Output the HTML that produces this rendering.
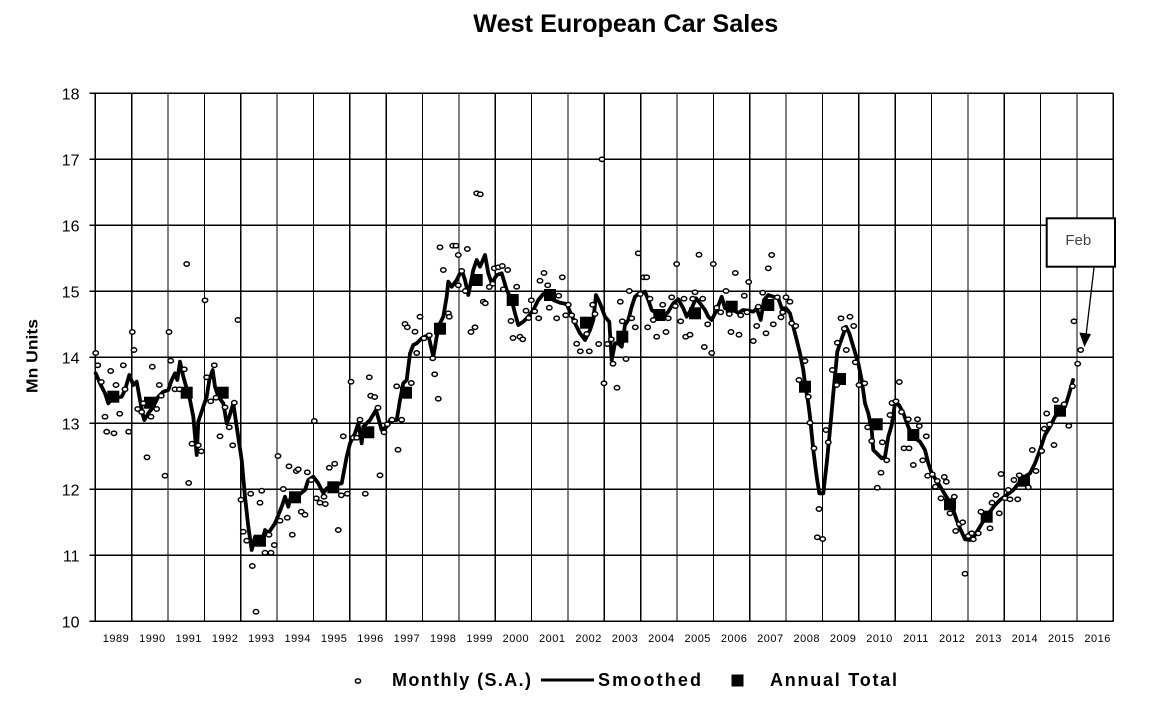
<!DOCTYPE html>
<html><head><meta charset="utf-8"><style>
html,body{margin:0;padding:0;background:#fff;}
svg{display:block;}
text{font-family:"Liberation Sans",Arial,sans-serif;}
#pts ellipse{rx:2.7px;ry:2.2px;}
</style></head><body>
<svg width="1164" height="701" viewBox="0 0 1164 701" xmlns="http://www.w3.org/2000/svg">
<rect width="1164" height="701" fill="#fff"/>
<text x="473.3" y="32" font-size="25" font-weight="bold" textLength="305" lengthAdjust="spacingAndGlyphs" fill="#000">West European Car Sales</text>
<g stroke="#000" stroke-width="1.2" fill="none" shape-rendering="crispEdges">
<path d="M89.3 93.3H1113.3M89.3 159.3H1113.3M89.3 225.3H1113.3M89.3 291.3H1113.3M89.3 357.3H1113.3M89.3 423.3H1113.3M89.3 489.3H1113.3M89.3 555.3H1113.3M89.3 621.3H1113.3"/>
<path d="M95.3 93.3V621.3M131.7 93.3V621.3M168 93.3V621.3M204.4 93.3V621.3M240.7 93.3V621.3M277.1 93.3V621.3M313.4 93.3V621.3M349.8 93.3V621.3M386.2 93.3V621.3M422.5 93.3V621.3M458.9 93.3V621.3M495.2 93.3V621.3M531.6 93.3V621.3M567.9 93.3V621.3M604.3 93.3V621.3M640.7 93.3V621.3M677 93.3V621.3M713.4 93.3V621.3M749.7 93.3V621.3M786.1 93.3V621.3M822.4 93.3V621.3M858.8 93.3V621.3M895.2 93.3V621.3M931.5 93.3V621.3M967.9 93.3V621.3M1004.2 93.3V621.3M1040.6 93.3V621.3M1076.9 93.3V621.3M1113.3 93.3V621.3"/>
</g>
<g font-size="16" text-anchor="end" fill="#000">
<text x="79.5" y="99.3">18</text><text x="79.5" y="165.3">17</text><text x="79.5" y="231.3">16</text><text x="79.5" y="297.3">15</text><text x="79.5" y="363.3">14</text><text x="79.5" y="429.3">13</text><text x="79.5" y="495.3">12</text><text x="79.5" y="561.3">11</text><text x="79.5" y="627.3">10</text>
</g>
<g font-size="11" text-anchor="middle" fill="#000" letter-spacing="0.5">
<text x="116" y="642">1989</text><text x="152.4" y="642">1990</text><text x="188.7" y="642">1991</text><text x="225.1" y="642">1992</text><text x="261.4" y="642">1993</text><text x="297.8" y="642">1994</text><text x="334.1" y="642">1995</text><text x="370.5" y="642">1996</text><text x="406.9" y="642">1997</text><text x="443.2" y="642">1998</text><text x="479.6" y="642">1999</text><text x="515.9" y="642">2000</text><text x="552.3" y="642">2001</text><text x="588.6" y="642">2002</text><text x="625" y="642">2003</text><text x="661.4" y="642">2004</text><text x="697.7" y="642">2005</text><text x="734.1" y="642">2006</text><text x="770.4" y="642">2007</text><text x="806.8" y="642">2008</text><text x="843.1" y="642">2009</text><text x="879.5" y="642">2010</text><text x="915.9" y="642">2011</text><text x="952.2" y="642">2012</text><text x="988.6" y="642">2013</text><text x="1024.9" y="642">2014</text><text x="1061.3" y="642">2015</text><text x="1097.6" y="642">2016</text>
</g>
<text transform="translate(37.5,356) rotate(-90)" text-anchor="middle" font-size="16" font-weight="bold" textLength="74" lengthAdjust="spacingAndGlyphs" fill="#000">Mn Units</text>
<polyline fill="none" stroke="#000" stroke-width="3.8" stroke-linejoin="round" stroke-linecap="round" points="95.7,373.3 100,383.3 105,393.3 108.3,403.3 111.7,398.3 121.7,396.7 125,390 129.3,375 133.3,385 136.7,381.7 140,400 143.3,416.7 144.3,420 148.3,413.3 153.3,406.7 158.3,396.7 163.3,391.7 168.3,390 171.7,380 175,373.3 177.3,380 180,361.7 183.3,376.7 190,400 193.3,416.7 196.7,455 198.3,421.7 203.3,406.7 206.7,396.7 209.3,380 212.7,370 215,386.7 218.3,396.7 223.3,403.3 226.7,423.3 229.3,416.7 233.3,403.3 236.7,426.7 241.7,460 245,496.7 248.3,526.7 251.7,550 255,536.7 258.3,540 261.7,543.3 265,530 268.3,533.3 275,523.3 281.7,506.7 285,496.7 288.3,506.7 291.7,493.3 300,494 305,490 308.3,480 313.3,476.7 318.3,483.3 323.3,493.3 326.7,488.3 333.3,485 341.7,483.3 346.7,456.7 350,443.3 355,433.3 358.3,423.3 361.7,443.3 363.3,426.7 370,420 376,410 381.7,430 386.7,426.7 390,420 396.7,420 400,400 403.3,383.3 406.7,380 410,353.3 413.3,345 416.7,343.3 421.7,338.3 428.3,335 433.3,356.7 436.7,336.7 440,323.3 443.3,316.7 446.7,296.7 448.3,281.7 451.7,286.7 456.7,280 461.7,270 465,280 468.3,295 473.3,270 476.7,260 480,266.7 485,255 488.3,273.3 491.7,283.3 496.7,275 501.7,273.3 506.7,290 511.7,300 515,313.3 518.3,325 523.3,321.7 527,318 533.3,310 538.3,300 543.3,294 548.3,292.7 553.3,300 560,302.7 566.7,304 570,311.7 575,323.3 580,333.3 585,340 590,330 593.3,320 596,295 600,303.3 605,316.7 609.3,321.7 611.7,360 615,343.3 618.3,343.3 621.7,346.7 625,325 628.3,320 631.7,306.7 635,296.7 639.3,293.3 645,291.7 648.3,300 651.7,310 656.7,313.3 660,316.7 665,315 668.3,311.7 673.3,303.3 678.3,299.3 683.3,308.3 686.7,316.7 691.7,308.3 696,298.3 700,303.3 705,310 708.3,316.7 711.7,320 716.7,310 721.7,296.7 725,308.3 728.3,308.3 733.3,310 738.3,313 743,310 748,310.5 753.3,311.7 756.7,308.3 760.7,320 764,300 768.3,295 773.3,296.7 778.3,298.3 781.7,308.3 786,308.3 790,313.3 793.3,326.7 796.7,340 800,353.3 803.3,370 805,383.3 808.3,403.3 810,416.7 813.3,450 816.7,476.7 819.3,493.3 823.3,493.3 826.7,463.3 830,430 833.3,393.3 837.3,351.7 840,343.3 846,326.7 849.3,333.3 853.3,346.7 858.3,363.3 861.7,380 865,403.3 868.3,413.3 871.7,430 873.3,450 876.7,453.3 881.7,458.3 885,456.7 888.3,436.7 891.7,425 895,403.3 899,405 903.3,413 908.3,427 913.3,436.7 920,441.7 925,450 928.3,463.3 931.7,473.3 938.3,483.3 943.3,491.7 948.3,500 953.3,510 956.7,520 960,528.3 965,539.3 970,540 975,535 980,526.7 985,518.3 990,511.7 995,505 1000,500 1006.7,495 1013.3,490 1020,481.7 1025,476.7 1030,473.3 1035,463.3 1040,450 1045,435 1050,426.7 1055,416.7 1060,411.7 1065,406.7 1068.3,396.7 1071.7,385 1073,380"/>
<g fill="#000">
<rect x="107.3" y="390.7" width="12" height="12"/><rect x="144" y="396.7" width="12" height="12"/><rect x="180.7" y="386.7" width="12" height="12"/><rect x="216.7" y="386.7" width="12" height="12"/><rect x="254" y="534.7" width="12" height="12"/><rect x="289" y="491.3" width="12" height="12"/><rect x="327.3" y="481.3" width="12" height="12"/><rect x="362.3" y="426.3" width="12" height="12"/><rect x="400" y="386.7" width="12" height="12"/><rect x="434" y="322.7" width="12" height="12"/><rect x="470.7" y="274" width="12" height="12"/><rect x="506.7" y="294" width="12" height="12"/><rect x="544" y="289" width="12" height="12"/><rect x="580" y="316.7" width="12" height="12"/><rect x="616.3" y="330.7" width="12" height="12"/><rect x="653.3" y="309" width="12" height="12"/><rect x="689" y="307.3" width="12" height="12"/><rect x="725.7" y="300.7" width="12" height="12"/><rect x="762.3" y="299" width="12" height="12"/><rect x="799" y="380.7" width="12" height="12"/><rect x="834" y="373" width="12" height="12"/><rect x="870.7" y="418.3" width="12" height="12"/><rect x="907.3" y="429" width="12" height="12"/><rect x="944" y="498.3" width="12" height="12"/><rect x="980.7" y="510.7" width="12" height="12"/><rect x="1018" y="474.7" width="12" height="12"/><rect x="1054" y="404.7" width="12" height="12"/>
</g>
<g id="pts" fill="#fff" stroke="#000" stroke-width="1.5">
<ellipse cx="95.7" cy="353" rx="2.7" ry="2.2"/><ellipse cx="186.7" cy="264" rx="2.7" ry="2.2"/><ellipse cx="205" cy="300.3" rx="2.7" ry="2.2"/><ellipse cx="238" cy="320" rx="2.7" ry="2.2"/><ellipse cx="132.3" cy="332" rx="2.7" ry="2.2"/><ellipse cx="169" cy="332" rx="2.7" ry="2.2"/><ellipse cx="134" cy="350" rx="2.7" ry="2.2"/><ellipse cx="97.7" cy="365.3" rx="2.7" ry="2.2"/><ellipse cx="110.7" cy="371" rx="2.7" ry="2.2"/><ellipse cx="123.3" cy="365.3" rx="2.7" ry="2.2"/><ellipse cx="152.3" cy="366.7" rx="2.7" ry="2.2"/><ellipse cx="170.7" cy="360.7" rx="2.7" ry="2.2"/><ellipse cx="214.3" cy="365.3" rx="2.7" ry="2.2"/><ellipse cx="206.7" cy="377.3" rx="2.7" ry="2.2"/><ellipse cx="184.3" cy="369.3" rx="2.7" ry="2.2"/><ellipse cx="101.3" cy="382" rx="2.7" ry="2.2"/><ellipse cx="116" cy="385" rx="2.7" ry="2.2"/><ellipse cx="125" cy="389.3" rx="2.7" ry="2.2"/><ellipse cx="159.3" cy="385" rx="2.7" ry="2.2"/><ellipse cx="175" cy="389.3" rx="2.7" ry="2.2"/><ellipse cx="179.3" cy="389.3" rx="2.7" ry="2.2"/><ellipse cx="161.3" cy="395.7" rx="2.7" ry="2.2"/><ellipse cx="137.7" cy="409" rx="2.7" ry="2.2"/><ellipse cx="141.7" cy="412" rx="2.7" ry="2.2"/><ellipse cx="143.3" cy="403.3" rx="2.7" ry="2.2"/><ellipse cx="156.7" cy="409" rx="2.7" ry="2.2"/><ellipse cx="151" cy="416.7" rx="2.7" ry="2.2"/><ellipse cx="105" cy="416.7" rx="2.7" ry="2.2"/><ellipse cx="119.7" cy="413.7" rx="2.7" ry="2.2"/><ellipse cx="106.7" cy="431.7" rx="2.7" ry="2.2"/><ellipse cx="114" cy="433.3" rx="2.7" ry="2.2"/><ellipse cx="128.7" cy="431.7" rx="2.7" ry="2.2"/><ellipse cx="210.7" cy="401.3" rx="2.7" ry="2.2"/><ellipse cx="216" cy="397.7" rx="2.7" ry="2.2"/><ellipse cx="225" cy="407.3" rx="2.7" ry="2.2"/><ellipse cx="234.3" cy="402.7" rx="2.7" ry="2.2"/><ellipse cx="229.3" cy="427.3" rx="2.7" ry="2.2"/><ellipse cx="220" cy="436.3" rx="2.7" ry="2.2"/><ellipse cx="232.7" cy="445.3" rx="2.7" ry="2.2"/><ellipse cx="192" cy="443.7" rx="2.7" ry="2.2"/><ellipse cx="198.3" cy="445.3" rx="2.7" ry="2.2"/><ellipse cx="201.3" cy="451.3" rx="2.7" ry="2.2"/><ellipse cx="147" cy="457.3" rx="2.7" ry="2.2"/><ellipse cx="165" cy="475.7" rx="2.7" ry="2.2"/><ellipse cx="188.7" cy="483" rx="2.7" ry="2.2"/><ellipse cx="278" cy="456" rx="2.7" ry="2.2"/><ellipse cx="289" cy="466.3" rx="2.7" ry="2.2"/><ellipse cx="296.3" cy="471" rx="2.7" ry="2.2"/><ellipse cx="298.3" cy="469.3" rx="2.7" ry="2.2"/><ellipse cx="307.3" cy="472.3" rx="2.7" ry="2.2"/><ellipse cx="283.3" cy="489" rx="2.7" ry="2.2"/><ellipse cx="261.7" cy="490.7" rx="2.7" ry="2.2"/><ellipse cx="250.7" cy="493.7" rx="2.7" ry="2.2"/><ellipse cx="241" cy="499.7" rx="2.7" ry="2.2"/><ellipse cx="260" cy="502.7" rx="2.7" ry="2.2"/><ellipse cx="301.3" cy="511.7" rx="2.7" ry="2.2"/><ellipse cx="305" cy="514.7" rx="2.7" ry="2.2"/><ellipse cx="287.3" cy="517.7" rx="2.7" ry="2.2"/><ellipse cx="280" cy="520.7" rx="2.7" ry="2.2"/><ellipse cx="292.3" cy="534.7" rx="2.7" ry="2.2"/><ellipse cx="243.3" cy="531.7" rx="2.7" ry="2.2"/><ellipse cx="246.7" cy="540.7" rx="2.7" ry="2.2"/><ellipse cx="269" cy="534.7" rx="2.7" ry="2.2"/><ellipse cx="274.3" cy="545" rx="2.7" ry="2.2"/><ellipse cx="265" cy="552.7" rx="2.7" ry="2.2"/><ellipse cx="271" cy="552.7" rx="2.7" ry="2.2"/><ellipse cx="252.3" cy="566" rx="2.7" ry="2.2"/><ellipse cx="256" cy="611.7" rx="2.7" ry="2.2"/>
<ellipse cx="476.7" cy="193.3" rx="2.7" ry="2.2"/><ellipse cx="480.3" cy="194.3" rx="2.7" ry="2.2"/><ellipse cx="440" cy="247.3" rx="2.7" ry="2.2"/><ellipse cx="452.7" cy="245.7" rx="2.7" ry="2.2"/><ellipse cx="456" cy="245.7" rx="2.7" ry="2.2"/><ellipse cx="467.3" cy="249" rx="2.7" ry="2.2"/><ellipse cx="458.3" cy="255" rx="2.7" ry="2.2"/><ellipse cx="443.3" cy="270" rx="2.7" ry="2.2"/><ellipse cx="461.7" cy="271" rx="2.7" ry="2.2"/><ellipse cx="494.3" cy="268.3" rx="2.7" ry="2.2"/><ellipse cx="498.3" cy="267.3" rx="2.7" ry="2.2"/><ellipse cx="502.3" cy="266" rx="2.7" ry="2.2"/><ellipse cx="507.7" cy="270" rx="2.7" ry="2.2"/><ellipse cx="458.3" cy="285.3" rx="2.7" ry="2.2"/><ellipse cx="465.3" cy="291" rx="2.7" ry="2.2"/><ellipse cx="492.7" cy="283.7" rx="2.7" ry="2.2"/><ellipse cx="489.3" cy="287" rx="2.7" ry="2.2"/><ellipse cx="503.3" cy="289.3" rx="2.7" ry="2.2"/><ellipse cx="516.7" cy="286.7" rx="2.7" ry="2.2"/><ellipse cx="483.3" cy="301.7" rx="2.7" ry="2.2"/><ellipse cx="485.3" cy="303.3" rx="2.7" ry="2.2"/><ellipse cx="448.3" cy="313.3" rx="2.7" ry="2.2"/><ellipse cx="449.3" cy="316.7" rx="2.7" ry="2.2"/><ellipse cx="420" cy="316.7" rx="2.7" ry="2.2"/><ellipse cx="405" cy="324" rx="2.7" ry="2.2"/><ellipse cx="407.3" cy="327.3" rx="2.7" ry="2.2"/><ellipse cx="415" cy="331.7" rx="2.7" ry="2.2"/><ellipse cx="475" cy="327.3" rx="2.7" ry="2.2"/><ellipse cx="471" cy="332" rx="2.7" ry="2.2"/><ellipse cx="511" cy="321" rx="2.7" ry="2.2"/><ellipse cx="513" cy="338" rx="2.7" ry="2.2"/><ellipse cx="424" cy="338.3" rx="2.7" ry="2.2"/><ellipse cx="429.3" cy="335.3" rx="2.7" ry="2.2"/><ellipse cx="416.7" cy="353" rx="2.7" ry="2.2"/><ellipse cx="432.7" cy="358.3" rx="2.7" ry="2.2"/><ellipse cx="434.7" cy="374.3" rx="2.7" ry="2.2"/><ellipse cx="438.3" cy="398.7" rx="2.7" ry="2.2"/><ellipse cx="351" cy="381.7" rx="2.7" ry="2.2"/><ellipse cx="369.3" cy="377.3" rx="2.7" ry="2.2"/><ellipse cx="370.7" cy="395.7" rx="2.7" ry="2.2"/><ellipse cx="374.7" cy="397" rx="2.7" ry="2.2"/><ellipse cx="378" cy="407.7" rx="2.7" ry="2.2"/><ellipse cx="396.7" cy="386.3" rx="2.7" ry="2.2"/><ellipse cx="411.3" cy="383" rx="2.7" ry="2.2"/><ellipse cx="314.3" cy="421" rx="2.7" ry="2.2"/><ellipse cx="360" cy="419.7" rx="2.7" ry="2.2"/><ellipse cx="401.7" cy="419.7" rx="2.7" ry="2.2"/><ellipse cx="392" cy="419.7" rx="2.7" ry="2.2"/><ellipse cx="387.3" cy="424.3" rx="2.7" ry="2.2"/><ellipse cx="384" cy="432.3" rx="2.7" ry="2.2"/><ellipse cx="343.3" cy="436.3" rx="2.7" ry="2.2"/><ellipse cx="353.3" cy="437.7" rx="2.7" ry="2.2"/><ellipse cx="356.7" cy="437.7" rx="2.7" ry="2.2"/><ellipse cx="398" cy="449.7" rx="2.7" ry="2.2"/><ellipse cx="334.7" cy="463.7" rx="2.7" ry="2.2"/><ellipse cx="329.3" cy="467.7" rx="2.7" ry="2.2"/><ellipse cx="380" cy="475.3" rx="2.7" ry="2.2"/><ellipse cx="365.3" cy="493.7" rx="2.7" ry="2.2"/><ellipse cx="341.3" cy="495.3" rx="2.7" ry="2.2"/><ellipse cx="347.3" cy="493.7" rx="2.7" ry="2.2"/><ellipse cx="316.3" cy="498.3" rx="2.7" ry="2.2"/><ellipse cx="320" cy="502.7" rx="2.7" ry="2.2"/><ellipse cx="325.3" cy="504" rx="2.7" ry="2.2"/><ellipse cx="324" cy="496.7" rx="2.7" ry="2.2"/><ellipse cx="338.3" cy="530" rx="2.7" ry="2.2"/><ellipse cx="311.3" cy="480" rx="2.7" ry="2.2"/>
<ellipse cx="602" cy="159.3" rx="2.7" ry="2.2"/><ellipse cx="638.3" cy="253.3" rx="2.7" ry="2.2"/><ellipse cx="699" cy="254.7" rx="2.7" ry="2.2"/><ellipse cx="676.7" cy="264" rx="2.7" ry="2.2"/><ellipse cx="713.3" cy="264" rx="2.7" ry="2.2"/><ellipse cx="643.7" cy="277.3" rx="2.7" ry="2.2"/><ellipse cx="646.7" cy="277.3" rx="2.7" ry="2.2"/><ellipse cx="735.3" cy="273" rx="2.7" ry="2.2"/><ellipse cx="748.7" cy="282" rx="2.7" ry="2.2"/><ellipse cx="544" cy="273" rx="2.7" ry="2.2"/><ellipse cx="540" cy="280.7" rx="2.7" ry="2.2"/><ellipse cx="562.3" cy="277.3" rx="2.7" ry="2.2"/><ellipse cx="547.7" cy="285.3" rx="2.7" ry="2.2"/><ellipse cx="558.7" cy="295.7" rx="2.7" ry="2.2"/><ellipse cx="531.3" cy="300.3" rx="2.7" ry="2.2"/><ellipse cx="549.3" cy="307.7" rx="2.7" ry="2.2"/><ellipse cx="526" cy="310.7" rx="2.7" ry="2.2"/><ellipse cx="534.7" cy="311.3" rx="2.7" ry="2.2"/><ellipse cx="538.7" cy="318.3" rx="2.7" ry="2.2"/><ellipse cx="556.7" cy="318.3" rx="2.7" ry="2.2"/><ellipse cx="565.7" cy="315.3" rx="2.7" ry="2.2"/><ellipse cx="571.7" cy="315.3" rx="2.7" ry="2.2"/><ellipse cx="568.3" cy="304.7" rx="2.7" ry="2.2"/><ellipse cx="528.7" cy="318" rx="2.7" ry="2.2"/><ellipse cx="520" cy="336.7" rx="2.7" ry="2.2"/><ellipse cx="522.7" cy="339.3" rx="2.7" ry="2.2"/><ellipse cx="592.7" cy="304.7" rx="2.7" ry="2.2"/><ellipse cx="595" cy="314" rx="2.7" ry="2.2"/><ellipse cx="574.7" cy="321.3" rx="2.7" ry="2.2"/><ellipse cx="586.7" cy="334" rx="2.7" ry="2.2"/><ellipse cx="576.7" cy="343.7" rx="2.7" ry="2.2"/><ellipse cx="580.3" cy="351.3" rx="2.7" ry="2.2"/><ellipse cx="589.3" cy="351.3" rx="2.7" ry="2.2"/><ellipse cx="598.7" cy="344" rx="2.7" ry="2.2"/><ellipse cx="607.3" cy="344" rx="2.7" ry="2.2"/><ellipse cx="611.3" cy="339.3" rx="2.7" ry="2.2"/><ellipse cx="613" cy="363.7" rx="2.7" ry="2.2"/><ellipse cx="626" cy="359" rx="2.7" ry="2.2"/><ellipse cx="604" cy="383.3" rx="2.7" ry="2.2"/><ellipse cx="617" cy="387.7" rx="2.7" ry="2.2"/><ellipse cx="620.3" cy="301.7" rx="2.7" ry="2.2"/><ellipse cx="622.3" cy="321.3" rx="2.7" ry="2.2"/><ellipse cx="629.3" cy="291" rx="2.7" ry="2.2"/><ellipse cx="631.7" cy="318.3" rx="2.7" ry="2.2"/><ellipse cx="635.3" cy="327.3" rx="2.7" ry="2.2"/><ellipse cx="640.3" cy="294" rx="2.7" ry="2.2"/><ellipse cx="650" cy="298.7" rx="2.7" ry="2.2"/><ellipse cx="647.7" cy="327.3" rx="2.7" ry="2.2"/><ellipse cx="653.3" cy="320" rx="2.7" ry="2.2"/><ellipse cx="662.7" cy="304.7" rx="2.7" ry="2.2"/><ellipse cx="668.3" cy="318.3" rx="2.7" ry="2.2"/><ellipse cx="656.7" cy="336.7" rx="2.7" ry="2.2"/><ellipse cx="666" cy="332" rx="2.7" ry="2.2"/><ellipse cx="671.7" cy="297.3" rx="2.7" ry="2.2"/><ellipse cx="675.3" cy="306" rx="2.7" ry="2.2"/><ellipse cx="684" cy="298.7" rx="2.7" ry="2.2"/><ellipse cx="680.7" cy="321.3" rx="2.7" ry="2.2"/><ellipse cx="685.7" cy="336.7" rx="2.7" ry="2.2"/><ellipse cx="690" cy="334.7" rx="2.7" ry="2.2"/><ellipse cx="695" cy="292.3" rx="2.7" ry="2.2"/><ellipse cx="692.7" cy="298.7" rx="2.7" ry="2.2"/><ellipse cx="702.7" cy="298.7" rx="2.7" ry="2.2"/><ellipse cx="707.7" cy="324.3" rx="2.7" ry="2.2"/><ellipse cx="704.3" cy="347" rx="2.7" ry="2.2"/><ellipse cx="711.7" cy="353" rx="2.7" ry="2.2"/><ellipse cx="716.7" cy="307.7" rx="2.7" ry="2.2"/><ellipse cx="720.7" cy="312.3" rx="2.7" ry="2.2"/><ellipse cx="726" cy="291" rx="2.7" ry="2.2"/><ellipse cx="729.3" cy="314" rx="2.7" ry="2.2"/><ellipse cx="731" cy="332" rx="2.7" ry="2.2"/><ellipse cx="739" cy="334.7" rx="2.7" ry="2.2"/><ellipse cx="740.7" cy="315.3" rx="2.7" ry="2.2"/><ellipse cx="744.3" cy="295.7" rx="2.7" ry="2.2"/><ellipse cx="747" cy="312.3" rx="2.7" ry="2.2"/>
<ellipse cx="771.7" cy="255" rx="2.7" ry="2.2"/><ellipse cx="768.3" cy="268.3" rx="2.7" ry="2.2"/><ellipse cx="762.7" cy="292.7" rx="2.7" ry="2.2"/><ellipse cx="758.3" cy="306.7" rx="2.7" ry="2.2"/><ellipse cx="756.7" cy="326" rx="2.7" ry="2.2"/><ellipse cx="753.3" cy="341" rx="2.7" ry="2.2"/><ellipse cx="766" cy="333.3" rx="2.7" ry="2.2"/><ellipse cx="773.3" cy="324.3" rx="2.7" ry="2.2"/><ellipse cx="777.3" cy="297.3" rx="2.7" ry="2.2"/><ellipse cx="786" cy="297.3" rx="2.7" ry="2.2"/><ellipse cx="790" cy="301.7" rx="2.7" ry="2.2"/><ellipse cx="782.7" cy="312.3" rx="2.7" ry="2.2"/><ellipse cx="781" cy="317.3" rx="2.7" ry="2.2"/><ellipse cx="791.7" cy="323.3" rx="2.7" ry="2.2"/><ellipse cx="795.7" cy="326" rx="2.7" ry="2.2"/><ellipse cx="805" cy="361" rx="2.7" ry="2.2"/><ellipse cx="799" cy="380" rx="2.7" ry="2.2"/><ellipse cx="808.3" cy="396.7" rx="2.7" ry="2.2"/><ellipse cx="810" cy="422.7" rx="2.7" ry="2.2"/><ellipse cx="814" cy="448.3" rx="2.7" ry="2.2"/><ellipse cx="819" cy="509" rx="2.7" ry="2.2"/><ellipse cx="817.3" cy="537.3" rx="2.7" ry="2.2"/><ellipse cx="822.7" cy="539" rx="2.7" ry="2.2"/><ellipse cx="826" cy="430" rx="2.7" ry="2.2"/><ellipse cx="828.3" cy="442.3" rx="2.7" ry="2.2"/><ellipse cx="832.3" cy="370" rx="2.7" ry="2.2"/><ellipse cx="836.7" cy="385" rx="2.7" ry="2.2"/><ellipse cx="837.3" cy="342.7" rx="2.7" ry="2.2"/><ellipse cx="841" cy="318.3" rx="2.7" ry="2.2"/><ellipse cx="850" cy="316.7" rx="2.7" ry="2.2"/><ellipse cx="853.7" cy="326" rx="2.7" ry="2.2"/><ellipse cx="844.3" cy="328.7" rx="2.7" ry="2.2"/><ellipse cx="846.3" cy="350" rx="2.7" ry="2.2"/><ellipse cx="855.3" cy="362.3" rx="2.7" ry="2.2"/><ellipse cx="859" cy="385" rx="2.7" ry="2.2"/><ellipse cx="864.7" cy="383.3" rx="2.7" ry="2.2"/><ellipse cx="867.7" cy="427.3" rx="2.7" ry="2.2"/>
<ellipse cx="871.7" cy="441" rx="2.7" ry="2.2"/><ellipse cx="882.3" cy="442.3" rx="2.7" ry="2.2"/><ellipse cx="886.7" cy="460.3" rx="2.7" ry="2.2"/><ellipse cx="881" cy="472.7" rx="2.7" ry="2.2"/><ellipse cx="877.3" cy="487.7" rx="2.7" ry="2.2"/><ellipse cx="890" cy="415" rx="2.7" ry="2.2"/><ellipse cx="892" cy="403" rx="2.7" ry="2.2"/><ellipse cx="896" cy="401.3" rx="2.7" ry="2.2"/><ellipse cx="899.3" cy="382" rx="2.7" ry="2.2"/><ellipse cx="901.5" cy="412" rx="2.7" ry="2.2"/><ellipse cx="908.3" cy="419.3" rx="2.7" ry="2.2"/><ellipse cx="917.5" cy="419.3" rx="2.7" ry="2.2"/><ellipse cx="919.3" cy="426" rx="2.7" ry="2.2"/><ellipse cx="926.3" cy="436.3" rx="2.7" ry="2.2"/><ellipse cx="904" cy="448.3" rx="2.7" ry="2.2"/><ellipse cx="909" cy="448.3" rx="2.7" ry="2.2"/>
<ellipse cx="922.7" cy="460.3" rx="2.7" ry="2.2"/><ellipse cx="913.3" cy="465" rx="2.7" ry="2.2"/><ellipse cx="927.7" cy="475.7" rx="2.7" ry="2.2"/><ellipse cx="932.3" cy="474.3" rx="2.7" ry="2.2"/><ellipse cx="937.3" cy="481" rx="2.7" ry="2.2"/><ellipse cx="935.3" cy="486.7" rx="2.7" ry="2.2"/><ellipse cx="944.3" cy="477" rx="2.7" ry="2.2"/><ellipse cx="946.3" cy="481.7" rx="2.7" ry="2.2"/><ellipse cx="941" cy="498.3" rx="2.7" ry="2.2"/><ellipse cx="954.3" cy="496.7" rx="2.7" ry="2.2"/><ellipse cx="950" cy="513.3" rx="2.7" ry="2.2"/><ellipse cx="959.3" cy="524" rx="2.7" ry="2.2"/><ellipse cx="962.7" cy="522.3" rx="2.7" ry="2.2"/><ellipse cx="955.7" cy="531" rx="2.7" ry="2.2"/><ellipse cx="968.3" cy="536" rx="2.7" ry="2.2"/><ellipse cx="971.7" cy="533.3" rx="2.7" ry="2.2"/><ellipse cx="978.3" cy="533.3" rx="2.7" ry="2.2"/><ellipse cx="973.3" cy="539.3" rx="2.7" ry="2.2"/><ellipse cx="965" cy="573.7" rx="2.7" ry="2.2"/><ellipse cx="981" cy="511.7" rx="2.7" ry="2.2"/><ellipse cx="990" cy="528.3" rx="2.7" ry="2.2"/><ellipse cx="992" cy="502.7" rx="2.7" ry="2.2"/><ellipse cx="996" cy="495" rx="2.7" ry="2.2"/><ellipse cx="999.3" cy="513.3" rx="2.7" ry="2.2"/><ellipse cx="1001" cy="474" rx="2.7" ry="2.2"/><ellipse cx="1005" cy="498.3" rx="2.7" ry="2.2"/><ellipse cx="1010" cy="499.3" rx="2.7" ry="2.2"/><ellipse cx="1017.7" cy="499.3" rx="2.7" ry="2.2"/><ellipse cx="1008.3" cy="490" rx="2.7" ry="2.2"/><ellipse cx="1014" cy="480" rx="2.7" ry="2.2"/><ellipse cx="1019.3" cy="475.3" rx="2.7" ry="2.2"/><ellipse cx="1028.3" cy="487.3" rx="2.7" ry="2.2"/><ellipse cx="1036" cy="471" rx="2.7" ry="2.2"/><ellipse cx="1032.3" cy="450" rx="2.7" ry="2.2"/><ellipse cx="1041.7" cy="451" rx="2.7" ry="2.2"/><ellipse cx="1054" cy="445" rx="2.7" ry="2.2"/><ellipse cx="1044.3" cy="428.7" rx="2.7" ry="2.2"/><ellipse cx="1049.6" cy="424.5" rx="2.7" ry="2.2"/><ellipse cx="1046.7" cy="413.5" rx="2.7" ry="2.2"/><ellipse cx="1055.5" cy="400" rx="2.7" ry="2.2"/><ellipse cx="1064.2" cy="404.2" rx="2.7" ry="2.2"/><ellipse cx="1068.8" cy="425.8" rx="2.7" ry="2.2"/><ellipse cx="1072.5" cy="386.2" rx="2.7" ry="2.2"/><ellipse cx="1074" cy="321.3" rx="2.7" ry="2.2"/><ellipse cx="1080.7" cy="350" rx="2.7" ry="2.2"/><ellipse cx="1077.7" cy="363.7" rx="2.7" ry="2.2"/>
</g>
<rect x="1046.7" y="218.3" width="68.3" height="48.4" fill="#fff" stroke="#000" stroke-width="2"/>
<text x="1078.3" y="245" font-size="15" text-anchor="middle" fill="#444">Feb</text>
<line x1="1094" y1="267.7" x2="1086.2" y2="334" stroke="#000" stroke-width="1.3"/>
<polygon points="1079.3,332.5 1091,334 1084.5,347" fill="#000"/>
<ellipse cx="358" cy="681" rx="2.6" ry="2.1" fill="#fff" stroke="#000" stroke-width="1.5"/>
<text x="392" y="686" font-size="18" font-weight="bold" textLength="139" lengthAdjust="spacing" fill="#000">Monthly (S.A.)</text>
<line x1="541" y1="680" x2="594" y2="680" stroke="#000" stroke-width="3"/>
<text x="598" y="686" font-size="18" font-weight="bold" textLength="103" lengthAdjust="spacing" fill="#000">Smoothed</text>
<rect x="731.5" y="674.5" width="12" height="12" fill="#000"/>
<text x="770" y="686" font-size="18" font-weight="bold" textLength="127" lengthAdjust="spacing" fill="#000">Annual Total</text>
</svg>
</body></html>
